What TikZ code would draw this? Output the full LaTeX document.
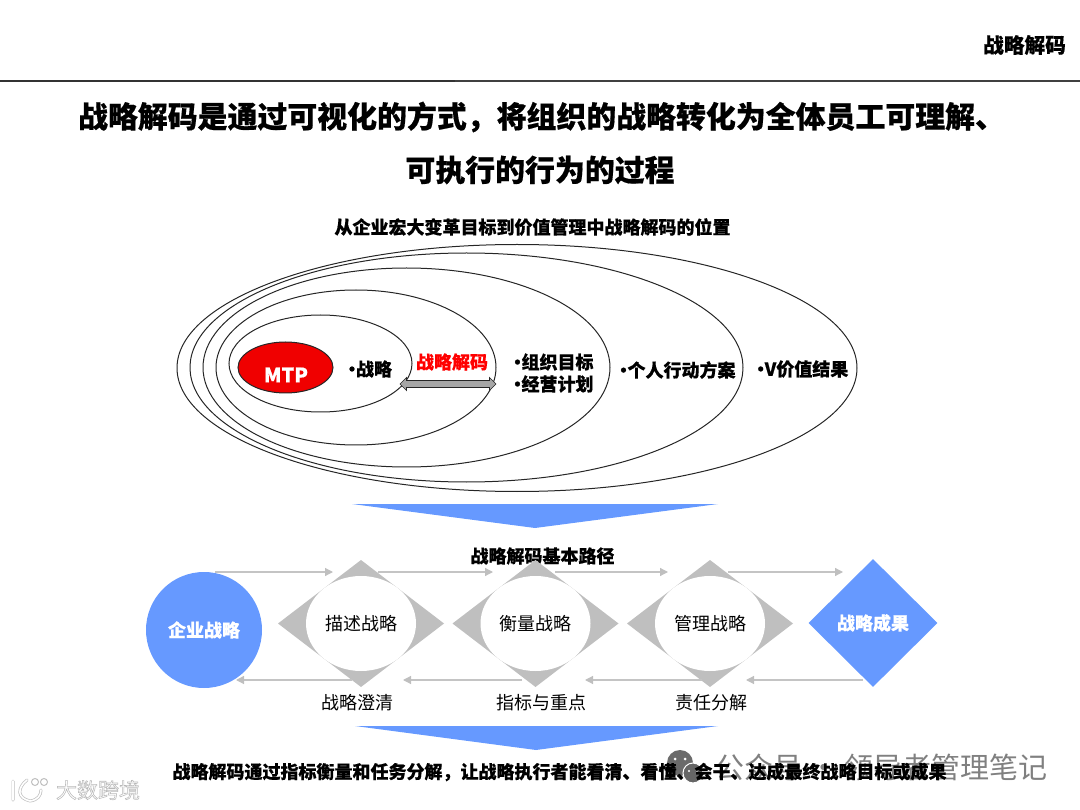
\documentclass[tikz,border=0pt]{standalone}
\usepackage{fontspec}
\usetikzlibrary{shapes.geometric,shapes.arrows,arrows.meta}
\setmainfont{Noto Sans CJK SC}[BoldFeatures={FakeBold=0.5}]
\definecolor{bluefill}{HTML}{6699FF}
\definecolor{greyfill}{HTML}{BFBFBF}
\definecolor{linegrey}{HTML}{C4C4C4}
\definecolor{redfill}{HTML}{F00000}
\newcommand{\halotext}[1]{\special{pdf:code q 2 Tr 0.55 w 0.72 G 1 g}#1\special{pdf:code 0 Tr Q}}
\newcommand{\bul}{\makebox[8pt]{•}}
\tikzset{
  txt/.style={inner sep=0pt,outer sep=0pt,align=center,font=\fontsize{18pt}{22pt}\selectfont},
  btxt/.style={txt,font=\fontsize{18pt}{22pt}\selectfont\bfseries},
  titletxt/.style={inner sep=0pt,font=\fontsize{29.9pt}{34pt}\selectfont\bfseries},
  ring/.style={draw=black!85,line width=1pt,ellipse,inner sep=0pt,outer sep=0pt},
  lozenge/.style={diamond,fill=greyfill,inner sep=0pt,outer sep=0pt,minimum width=166pt,minimum height=127pt,aspect=1.307},
  hole/.style={ellipse,fill=white,inner sep=0pt,outer sep=0pt,minimum width=110pt,minimum height=95pt,font=\fontsize{18pt}{22pt}\selectfont},
  flow/.style={draw=linegrey,line width=1.2pt,-{Triangle[length=8pt,width=8pt,color=greyfill]}},
  funnel/.style={fill=bluefill,draw=none},
}
\begin{document}
\begin{tikzpicture}[x=1pt,y=-1pt]
\useasboundingbox (0,0) rectangle (1080,810);
% header
\coordinate (ruleL) at (0,81);
\coordinate (ruleM) at (455,81);
\coordinate (ruleR) at (1080,81);
\draw[line width=1.3pt,black!80] (ruleL) -- (ruleM);
\draw[line width=1.2pt,black!75] (ruleM) -- (ruleR);
\node[txt,font=\fontsize{20.7pt}{24pt}\selectfont\bfseries] (hdr) at (1024.5,45) {战略解码};
\node[titletxt] (t1) at (541.5,117) {战略解码是通过可视化的方式，将组织的战略转化为全体员工可理解、};
\node[titletxt] (t2) at (540,170) {可执行的行为的过程};
\node[btxt] (sub1) at (532.5,227) {从企业宏大变革目标到价值管理中战略解码的位置};
% nested ellipses
\node[ring,minimum width=680pt,minimum height=247pt] (e1) at (517,368) {};
\node[ring,minimum width=553pt,minimum height=229pt] (e2) at (466.5,367.5) {};
\node[ring,minimum width=407pt,minimum height=199pt] (e3) at (406.5,367.5) {};
\node[ring,minimum width=280pt,minimum height=155pt] (e4) at (356,367.5) {};
\node[ring,minimum width=183pt,minimum height=97pt] (e5) at (320.5,363.5) {};
\node[ring,fill=redfill,minimum width=95pt,minimum height=51pt] (mtp) at (285.5,367.5) {};
\node[txt,white,font=\fontsize{20pt}{24pt}\selectfont\bfseries] (mtptxt) at (286,375) {MTP};
\node[btxt] (lb1) at (370,369) {\bul 战略};
\node[btxt,text=red] (lb2) at (452,362) {战略解码};
\node[btxt] (lb3) at (553.5,362) {\bul 组织目标};
\node[btxt] (lb4) at (553.5,384) {\bul 经营计划};
\node[btxt] (lb5) at (677.5,370) {\bul 个人行动方案};
\node[btxt] (lb6) at (802.5,369) {\bul V价值结果};
\coordinate (dblL) at (400,384);
\coordinate (dblR) at (496,384);
\path (dblL) -- (dblR) node[midway,double arrow,draw=black!85,fill=black!35,line width=0.7pt,inner xsep=0pt,inner ysep=3.2pt,minimum height=96pt,minimum width=12.5pt,double arrow head extend=3pt,shape border rotate=0] (dbl) {};
% funnel 1
\fill[funnel] (352,504) -- (718,504) -- (535,528) -- cycle;
\node[btxt] (sub2) at (542.5,556) {战略解码基本路径};
% flow row
\node[circle,fill=bluefill,inner sep=0pt,minimum size=116pt,text=white,font=\fontsize{18pt}{22pt}\selectfont\bfseries] (corp) at (204,630) {企业战略};
\foreach \n/\x/\t in {a/361/描述战略,b/535.5/衡量战略,c/710/管理战略}{
  \node[lozenge] (d\n) at (\x,623.5) {};
  \node[hole] (h\n) at (\x,623.5) {\t};
}
\node[diamond,fill=bluefill,inner sep=0pt,minimum width=129pt,minimum height=128pt,aspect=1,text=white,font=\fontsize{18pt}{22pt}\selectfont\bfseries] (res) at (873,623) {战略成果};
\coordinate (u0) at (215,572); \coordinate (u1) at (333,572);
\coordinate (u2) at (378,572); \coordinate (u3) at (493,572);
\coordinate (u4) at (555,572); \coordinate (u5) at (668,572);
\coordinate (u6) at (728,572); \coordinate (u7) at (843,572);
\draw[flow] (u0) -- (u1);
\draw[flow] (u2) -- (u3);
\draw[flow] (u4) -- (u5);
\draw[flow] (u6) -- (u7);
\coordinate (v0) at (352,680); \coordinate (v1) at (236,680);
\coordinate (v2) at (522,680); \coordinate (v3) at (403,680);
\coordinate (v4) at (702,680); \coordinate (v5) at (585,680);
\coordinate (v6) at (863,680); \coordinate (v7) at (746,680);
\draw[flow] (v0) -- (v1);
\draw[flow] (v2) -- (v3);
\draw[flow] (v4) -- (v5);
\draw[flow] (v6) -- (v7);
\node[txt] (ca) at (357,703) {战略澄清};
\node[txt] (cb) at (541.5,703) {指标与重点};
\node[txt] (cc) at (711,703) {责任分解};
% funnel 2
\fill[funnel] (355,726) -- (718,726) -- (536,750) -- cycle;
% watermarks
\node[inner sep=0pt,text=black!50,font=\fontsize{29pt}{30pt}\selectfont] (wm) at (881.5,767) {公众号 · 领导者管理笔记};
\fill[black!58] (680,763) circle (13pt);
\fill[white] (675,759) circle (1.5pt) (685,759) circle (1.5pt);
\filldraw[fill=black!60,draw=white,line width=1pt] (693,773) circle (10pt);
\fill[white] (689,771) circle (1.2pt) (697,771) circle (1.2pt);
% logo
\draw[black!25,line width=3pt,line cap=round] (13,781) -- (13,800) (27,780) .. controls (17,788) and (17,798) .. (30,801) (30,801) .. controls (38,800) and (41,795) .. (41,790);
\draw[white,line width=1.6pt,line cap=round] (13,781) -- (13,800) (27,780) .. controls (17,788) and (17,798) .. (30,801) (30,801) .. controls (38,800) and (41,795) .. (41,790);
\draw[black!25,line width=1pt,fill=white] (35,782) circle (3.5pt) (44,782) circle (3.5pt);
\node[inner sep=0pt,text=white,font=\fontsize{21pt}{22pt}\selectfont] (wm2) at (98,790) {\halotext{大数跨境}};
\node[btxt] (bot) at (559.5,772) {战略解码通过指标衡量和任务分解，让战略执行者能看清、看懂、会干、达成最终战略目标或成果};
\end{tikzpicture}
\end{document}
